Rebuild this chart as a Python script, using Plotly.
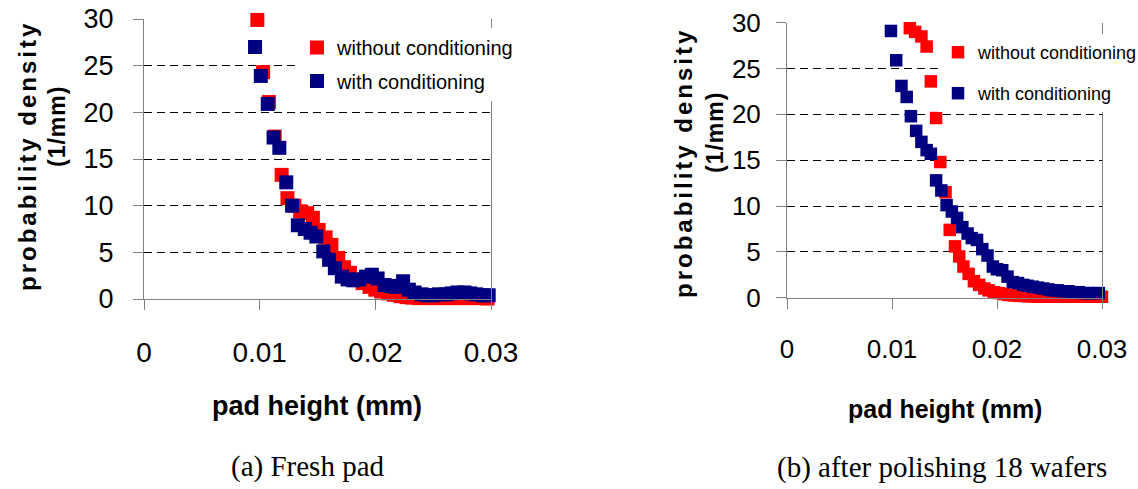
import plotly.graph_objects as go

# ---------------- data ----------------
xtick_vals = [0, 0.01, 0.02, 0.03]
xtick_text = ["0", "0.01", "0.02", "0.03"]
ytick_vals = [0, 5, 10, 15, 20, 25, 30]

# (a) Fresh pad
a_x_without = [0.0098, 0.0103, 0.0108, 0.0113, 0.0119, 0.0124, 0.0130, 0.0135, 0.0141, 0.0146,
               0.0151, 0.0157, 0.0162, 0.0168, 0.0173, 0.0178, 0.0184, 0.0189, 0.0195, 0.0200,
               0.0205, 0.0211, 0.0216, 0.0222, 0.0227, 0.0232, 0.0238, 0.0243, 0.0249, 0.0254,
               0.0259, 0.0265, 0.0270, 0.0276, 0.0281, 0.0286, 0.0292, 0.0297]
a_y_without = [29.9, 24.3, 21.1, 17.4, 13.3, 10.8, 10.0, 9.4, 9.2, 8.7,
               7.4, 6.6, 5.8, 4.4, 3.4, 2.8, 2.1, 1.7, 1.3, 1.0,
               0.8, 0.6, 0.45, 0.3, 0.2, 0.15, 0.1, 0.1, 0.1, 0.1,
               0.1, 0.1, 0.1, 0.1, 0.1, 0.1, 0.1, 0.05]
a_x_with = [0.0096, 0.0101, 0.0107, 0.0112, 0.0117, 0.0123, 0.0128, 0.0133, 0.0139, 0.0144,
            0.0149, 0.0155, 0.0160, 0.0165, 0.0171, 0.0176, 0.0181, 0.0186, 0.0192, 0.0197,
            0.0202, 0.0208, 0.0213, 0.0218, 0.0224, 0.0229, 0.0234, 0.0240, 0.0245, 0.0250,
            0.0255, 0.0261, 0.0266, 0.0271, 0.0277, 0.0282, 0.0287, 0.0293, 0.0298]
a_y_with = [27.0, 23.9, 20.9, 17.3, 16.2, 12.5, 10.0, 7.9, 7.5, 7.1,
            6.7, 5.1, 4.2, 3.3, 2.4, 2.1, 2.0, 2.1, 2.4, 2.6,
            2.2, 1.5, 1.4, 1.3, 1.9, 1.0, 0.7, 0.5, 0.4, 0.4,
            0.5, 0.5, 0.6, 0.7, 0.7, 0.6, 0.5, 0.4, 0.4]

# (b) after polishing 18 wafers
b_x_without = [0.0117, 0.0122, 0.0128, 0.0133, 0.0137, 0.0142, 0.0146, 0.0151, 0.0155, 0.0160,
               0.0164, 0.0168, 0.0173, 0.0178, 0.0183, 0.0188, 0.0192, 0.0197, 0.0202, 0.0207,
               0.0211, 0.0216, 0.0221, 0.0225, 0.0230, 0.0235, 0.0239, 0.0244, 0.0249, 0.0254,
               0.0258, 0.0263, 0.0268, 0.0272, 0.0277, 0.0282, 0.0286, 0.0291, 0.0296, 0.0300]
b_y_without = [29.4, 29.0, 28.5, 27.4, 23.6, 19.6, 14.8, 11.5, 7.4, 5.6,
               4.5, 3.4, 2.6, 1.8, 1.4, 1.0, 0.8, 0.6, 0.5, 0.4,
               0.3, 0.25, 0.2, 0.2, 0.15, 0.15, 0.1, 0.1, 0.1, 0.1,
               0.1, 0.1, 0.1, 0.1, 0.1, 0.1, 0.1, 0.1, 0.1, 0.1]
b_x_with = [0.0099, 0.0104, 0.0109, 0.0114, 0.0118, 0.0123, 0.0128, 0.0133, 0.0137, 0.0142,
            0.0147, 0.0152, 0.0157, 0.0162, 0.0167, 0.0172, 0.0176, 0.0181, 0.0186, 0.0191,
            0.0196, 0.0200, 0.0205, 0.0210, 0.0215, 0.0220, 0.0225, 0.0229, 0.0234, 0.0239,
            0.0244, 0.0249, 0.0253, 0.0258, 0.0263, 0.0268, 0.0273, 0.0278, 0.0282, 0.0287,
            0.0292, 0.0297]
b_y_with = [29.1, 25.9, 23.1, 21.9, 19.8, 18.2, 17.0, 16.1, 15.7, 12.8,
            11.7, 10.1, 9.4, 8.7, 7.7, 7.0, 6.5, 6.3, 5.3, 4.6,
            3.4, 3.1, 3.0, 2.3, 1.7, 1.6, 1.4, 1.3, 1.2, 1.1,
            1.0, 0.9, 0.8, 0.8, 0.7, 0.7, 0.6, 0.6, 0.5, 0.5,
            0.5, 0.5]

name_without = "without conditioning"
name_with = "with conditioning"
ytitle1 = "probability density"
ytitle2 = "(1/mm)"
xtitle = "pad height (mm)"
caption_a = "(a) Fresh pad"
caption_b = "(b) after polishing 18 wafers"

RED = "#FF0000"
NAVY = "#000080"
SANS = "Liberation Sans, Arial, sans-serif"
SERIF = "Liberation Serif, Times New Roman, serif"
W, H = 1138, 489

fig = go.Figure()

def add(xs, ys, name, color, xa, ya, leg, size):
    fig.add_trace(go.Scatter(
        x=xs, y=ys, mode="markers", name=name,
        marker=dict(symbol="square", size=size, color=color, line=dict(width=0)),
        xaxis=xa, yaxis=ya, legend=leg, legendgroup=leg + name,
        cliponaxis=False, showlegend=True))

add(a_x_without, a_y_without, name_without, RED, "x", "y", "legend", 14)
add(a_x_with, a_y_with, name_with, NAVY, "x", "y", "legend", 14)
add(b_x_without, b_y_without, name_without, RED, "x2", "y2", "legend2", 12.5)
add(b_x_with, b_y_with, name_with, NAVY, "x2", "y2", "legend2", 12.5)

def px_x(p):
    return p / W

def px_y(p):
    return 1 - p / H

AXC = "#7f7f7f"

def xaxis(domain, anchor, fs):
    return dict(domain=domain, anchor=anchor, range=[0, 0.03],
                tickmode="array", tickvals=xtick_vals, ticktext=xtick_text,
                showline=True, linecolor=AXC, linewidth=1,
                ticks="outside", ticklen=10, tickcolor=AXC, tickwidth=1,
                tickfont=dict(family=SANS, size=fs, color="black"),
                showgrid=False, zeroline=False, ticklabelstandoff=18)

def yaxis(domain, anchor, fs, standoff):
    return dict(domain=domain, anchor=anchor, range=[0, 30],
                tickmode="array", tickvals=ytick_vals,
                showline=True, mirror=True, linecolor=AXC, linewidth=1,
                ticks="outside", ticklen=10, tickcolor=AXC, tickwidth=1,
                tickfont=dict(family=SANS, size=fs, color="black"),
                showgrid=True, gridcolor="#000000", gridwidth=1, griddash="8px,5px",
                zeroline=False, ticklabelstandoff=standoff)

annotations = []

def ann(text, x, y, size, family=SANS, bold=False, angle=0):
    annotations.append(dict(
        text=text, x=px_x(x), y=px_y(y), xref="paper", yref="paper",
        xanchor="center", yanchor="middle", showarrow=False, textangle=angle,
        font=dict(family=family, size=size, color="black",
                  weight="bold" if bold else "normal")))

# left panel texts
ann('<span style="letter-spacing:3px">' + ytitle1 + '</span>', 28, 156, 24, bold=True, angle=-90)
ann('<span style="letter-spacing:1px">' + ytitle2 + '</span>', 57, 127, 23, bold=True, angle=-90)
ann(xtitle, 317, 406, 27, bold=True)
ann(caption_a, 308, 466, 29, family=SERIF)
# right panel texts
ann('<span style="letter-spacing:3px">' + ytitle1 + '</span>', 684, 163, 24, bold=True, angle=-90)
ann('<span style="letter-spacing:1px">' + ytitle2 + '</span>', 715, 133, 23, bold=True, angle=-90)
ann(xtitle, 945, 409, 25, bold=True)
ann(caption_b, 942, 467, 29, family=SERIF)

fig.update_layout(
    width=W, height=H,
    margin=dict(l=0, r=0, t=0, b=0, autoexpand=False),
    paper_bgcolor="white", plot_bgcolor="white",
    xaxis=xaxis([px_x(144), px_x(491)], "y", 28),
    yaxis=yaxis([px_y(299), px_y(19)], "x", 27, 14),
    xaxis2=xaxis([px_x(787), px_x(1102)], "y2", 26),
    yaxis2=yaxis([px_y(297.7), px_y(22.7)], "x2", 26, 10),
    legend=dict(x=px_x(297), y=px_y(28), xanchor="left", yanchor="top",
                bgcolor="white", borderwidth=0, tracegroupgap=4.5,
                font=dict(family=SANS, size=20, color="black")),
    legend2=dict(x=px_x(938), y=px_y(34), xanchor="left", yanchor="top",
                 bgcolor="white", borderwidth=0, tracegroupgap=14.6,
                 font=dict(family=SANS, size=18, color="black")),
    annotations=annotations,
    showlegend=True,
)

fig.write_html("out.html", config={"displayModeBar": False},
               post_script="document.body.style.margin='0px';")
